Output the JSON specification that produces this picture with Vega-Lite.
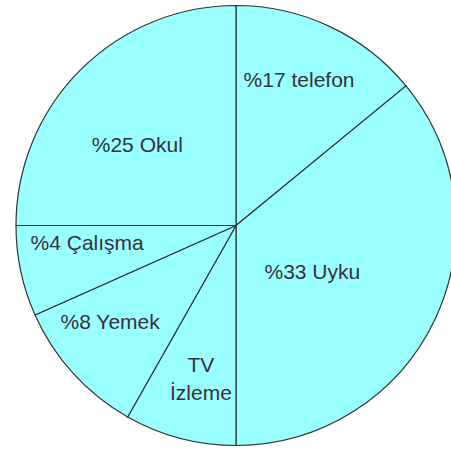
{
  "$schema": "https://vega.github.io/schema/vega-lite/v6.json",
  "width": 430,
  "height": 451,
  "autosize": "none",
  "padding": {"left": 21, "top": 0, "right": 0, "bottom": 0},
  "background": "white",
  "config": {
    "view": {"stroke": null},
    "text": {"fontSize": 21, "font": "Liberation Sans", "fill": "#3a2f3a", "letterSpacing": 0.4, "lineBreak": "\n", "lineHeight": 28}
  },
  "data": {
    "values": [
      {"i": 1, "label": "%17 telefon", "share": 50.6},
      {"i": 2, "label": "%33 Uyku", "share": 129.4},
      {"i": 3, "label": "TV\nİzleme", "share": 29.5},
      {"i": 4, "label": "%8 Yemek", "share": 36.5},
      {"i": 5, "label": "%4 Çalışma", "share": 24},
      {"i": 6, "label": "%25 Okul", "share": 90}
    ]
  },
  "encoding": {
    "theta": {"field": "share", "type": "quantitative", "stack": true},
    "order": {"field": "i", "type": "quantitative"}
  },
  "layer": [
    {
      "mark": {"type": "arc", "radius": 220, "fill": "#99ffff", "stroke": "#333333", "strokeWidth": 1.2}
    },
    {
      "mark": {"type": "text", "radius": 158, "thetaOffset": -0.031},
      "encoding": {"text": {"condition": {"test": "datum.i == 1", "field": "label"}, "value": ""}}
    },
    {
      "mark": {"type": "text", "radius": 90, "thetaOffset": 0.117},
      "encoding": {"text": {"condition": {"test": "datum.i == 2", "field": "label"}, "value": ""}}
    },
    {
      "mark": {"type": "text", "radius": 145, "thetaOffset": -0.013},
      "encoding": {"text": {"condition": {"test": "datum.i == 3", "field": "label"}, "value": ""}}
    },
    {
      "mark": {"type": "text", "radius": 159, "thetaOffset": 0.08},
      "encoding": {"text": {"condition": {"test": "datum.i == 4", "field": "label"}, "value": ""}}
    },
    {
      "mark": {"type": "text", "radius": 150, "thetaOffset": 0.087},
      "encoding": {"text": {"condition": {"test": "datum.i == 5", "field": "label"}, "value": ""}}
    },
    {
      "mark": {"type": "text", "radius": 127, "thetaOffset": -0.105},
      "encoding": {"text": {"condition": {"test": "datum.i == 6", "field": "label"}, "value": ""}}
    }
  ]
}
